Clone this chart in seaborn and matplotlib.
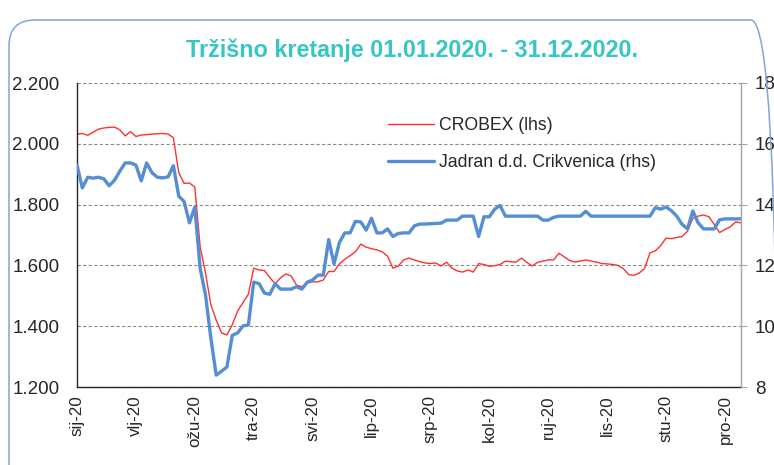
import matplotlib
matplotlib.use("Agg")
import matplotlib.pyplot as plt
from matplotlib.patches import FancyBboxPatch
import seaborn as sns
import pandas as pd
import numpy as np

# ---- data (~every 2nd trading day) ----
crobex = [2032, 2034, 2028, 2038, 2048, 2052, 2054, 2055, 2046, 2026,
          2040, 2024, 2029, 2030, 2032, 2033, 2034, 2032, 2020, 1905,
          1870, 1871, 1858, 1660, 1575, 1470, 1420, 1378, 1371, 1405,
          1450, 1478, 1505, 1591, 1585, 1583, 1560, 1540, 1559, 1572,
          1565, 1535, 1530, 1542, 1546, 1546, 1552, 1580, 1580, 1605,
          1620, 1632, 1645, 1670, 1660, 1655, 1651, 1645, 1630, 1591,
          1598, 1618, 1624, 1618, 1612, 1608, 1606, 1608, 1598, 1611,
          1591, 1582, 1578, 1585, 1578, 1606, 1603, 1597, 1599, 1603,
          1614, 1612, 1611, 1624, 1610, 1598, 1610, 1614, 1618, 1618,
          1640, 1628, 1616, 1611, 1614, 1618, 1614, 1611, 1606, 1605,
          1603, 1600, 1590, 1570, 1567, 1575, 1590, 1641, 1648, 1665,
          1690, 1688, 1692, 1695, 1712, 1755, 1762, 1766, 1760, 1735,
          1708, 1718, 1727, 1743, 1740]

jadran = [15.30, 14.55, 14.90, 14.87, 14.90, 14.85, 14.62, 14.80, 15.10, 15.37,
          15.37, 15.30, 14.78, 15.37, 15.05, 14.90, 14.88, 14.91, 15.28, 14.28,
          14.10, 13.40, 13.92, 11.90, 11.03, 9.60, 8.39, 8.52, 8.66, 9.70,
          9.78, 10.01, 10.04, 11.45, 11.40, 11.09, 11.05, 11.40, 11.22, 11.22,
          11.22, 11.30, 11.22, 11.45, 11.52, 11.68, 11.68, 12.85, 12.05, 12.75,
          13.07, 13.07, 13.45, 13.43, 13.16, 13.55, 13.07, 13.07, 13.20, 12.95,
          13.05, 13.07, 13.07, 13.30, 13.36, 13.36, 13.37, 13.38, 13.39, 13.49,
          13.49, 13.49, 13.62, 13.62, 13.62, 12.95, 13.60, 13.60, 13.85, 13.97,
          13.62, 13.62, 13.62, 13.62, 13.62, 13.62, 13.62, 13.49, 13.49, 13.58,
          13.62, 13.62, 13.62, 13.62, 13.62, 13.78, 13.62, 13.62, 13.62, 13.62,
          13.62, 13.62, 13.62, 13.62, 13.62, 13.62, 13.62, 13.62, 13.90, 13.85,
          13.92, 13.80, 13.62, 13.35, 13.20, 13.79, 13.40, 13.20, 13.20, 13.20,
          13.50, 13.53, 13.53, 13.53, 13.53]

month_labels = ["sij-20", "vlj-20", "ožu-20", "tra-20", "svi-20", "lip-20",
                "srp-20", "kol-20", "ruj-20", "lis-20", "stu-20", "pro-20"]
left_ticks = [1200, 1400, 1600, 1800, 2000, 2200]
left_tick_labels = ["1.200", "1.400", "1.600", "1.800", "2.000", "2.200"]
right_ticks = [8, 10, 12, 14, 16, 18]

title = "Tržišno kretanje 01.01.2020. - 31.12.2020."
series_names = ["CROBEX (lhs)", "Jadran d.d. Crikvenica (rhs)"]

# ---- styling ----
sns.set_style("white")
plt.rcParams["font.family"] = ["Liberation Sans", "DejaVu Sans"]

W, H = 774, 465
fig = plt.figure(figsize=(W / 100, H / 100), dpi=100)
ax = fig.add_axes([77 / W, 1 - 387 / H, (741 - 77) / W, (387 - 83) / H])
ax2 = ax.twinx()

n = len(crobex)
df = pd.DataFrame({"idx": np.arange(n), "crobex": crobex, "jadran": jadran})

RED = "#FF3030"
BLUE = "#558ED5"
sns.lineplot(data=df, x="idx", y="crobex", ax=ax, color=RED, linewidth=1.0,
             label=series_names[0], legend=False)
sns.lineplot(data=df, x="idx", y="jadran", ax=ax2, color=BLUE, linewidth=2.4,
             label=series_names[1], legend=False)

ax.set_xlim(0, n - 1)
ax.set_ylim(1200, 2200)
ax2.set_ylim(8, 18)

ax.set_yticks(left_ticks)
ax.set_yticklabels(left_tick_labels)
ax2.set_yticks(right_ticks)
ax2.set_yticklabels([str(v) for v in right_ticks])

step = 11
ax.set_xticks(list(range(0, step * len(month_labels), step)))
ax.set_xticklabels(month_labels, rotation=90)

ax.set_xlabel("")
ax.set_ylabel("")
ax2.set_xlabel("")
ax2.set_ylabel("")

TXT = "#262626"
ax.tick_params(axis="y", length=0, pad=12.5, labelsize=13.5, labelcolor=TXT)
ax.tick_params(axis="x", length=0, pad=6, labelsize=12.2, labelcolor=TXT)
ax2.tick_params(axis="y", length=4, width=0.8, color="#A6A6A6", pad=6,
                labelsize=13.5, labelcolor=TXT, direction="out")

ax.grid(axis="y", color="#8C8C8C", linestyle=(0, (3, 2)), linewidth=0.8)
ax.grid(axis="x", visible=False)
ax2.grid(False)

for s in ["top", "right"]:
    ax.spines[s].set_visible(False)
ax.spines["left"].set_color("#262626")
ax.spines["bottom"].set_color("#262626")
ax.spines["left"].set_linewidth(1.0)
ax.spines["bottom"].set_linewidth(1.0)
ax2.spines["top"].set_visible(False)
ax2.spines["left"].set_visible(False)
ax2.spines["bottom"].set_visible(False)
ax2.spines["right"].set_color("#A6A6A6")
ax2.spines["right"].set_linewidth(1.0)

# legend
h1, l1 = ax.get_legend_handles_labels()
h2, l2 = ax2.get_legend_handles_labels()
leg = ax2.legend(h1 + h2, l1 + l2, loc="upper left",
                 bbox_to_anchor=(388 / W, 1 - 117 / H),
                 bbox_transform=fig.transFigure, frameon=False,
                 fontsize=12.7, handlelength=2.6, handletextpad=0.3,
                 labelspacing=1.15, borderpad=0, borderaxespad=0)
for t in leg.get_texts():
    t.set_color(TXT)

# title
fig.text(412 / W, 1 - 50 / H, title, ha="center", va="center",
         fontsize=16.8, fontweight="bold", color="#36C6C6",
         family=["Liberation Sans Narrow", "Liberation Sans", "DejaVu Sans"])

# rounded outer frame
frame = FancyBboxPatch((9, -40), 768, H - 20 + 40,
                       boxstyle="round,pad=0,rounding_size=26",
                       transform=None, facecolor="none",
                       edgecolor="#7FA6DA", linewidth=1.1)
fig.add_artist(frame)

fig.savefig("out.png", dpi=100)
